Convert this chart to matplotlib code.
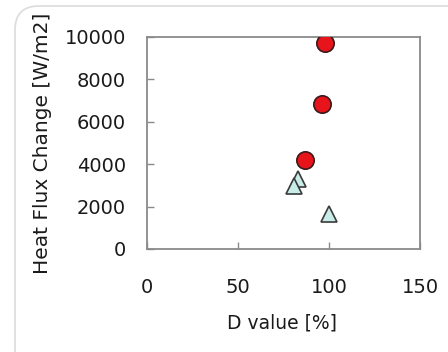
import matplotlib
matplotlib.use('Agg')
import matplotlib.pyplot as plt
from matplotlib.patches import PathPatch
from matplotlib.path import Path
from matplotlib.transforms import IdentityTransform

# data
circle_x = [98, 96, 87]
circle_y = [9700, 6850, 4200]
tri_x = [83, 81, 100]
tri_y = [3300, 2950, 1650]

x_ticks = [0, 50, 100, 150]
y_ticks = [0, 2000, 4000, 6000, 8000, 10000]

plt.rcParams['font.family'] = ['DejaVu Sans']

fig = plt.figure(figsize=(4.48, 3.52), dpi=100)
fig.patch.set_facecolor('white')

# faint rounded frame edge, top-left corner only (pixel coords)
verts = [(15, -10), (15, 322), (15, 346), (39, 346), (470, 346)]
codes = [Path.MOVETO, Path.LINETO, Path.CURVE3, Path.CURVE3, Path.LINETO]
frame = PathPatch(Path(verts, codes), transform=IdentityTransform(),
                  fill=False, edgecolor='#dcdcdc', linewidth=1.2, zorder=-5)
fig.patches.append(frame)

ax = fig.add_axes([147 / 448, 1 - 249 / 352, 273 / 448, 212 / 352])
ax.set_facecolor('white')
ax.set_zorder(2)

ax.plot(tri_x, tri_y, linestyle='none', marker='^', markersize=11.5,
        markerfacecolor='#c8ece8', markeredgecolor='#3a3a3a',
        markeredgewidth=1.2, zorder=3)
ax.plot(circle_x, circle_y, linestyle='none', marker='o', markersize=12.5,
        markerfacecolor='#e8141c', markeredgecolor='#3a1a1a',
        markeredgewidth=1.2, zorder=4)

ax.set_xlim(0, 150)
ax.set_ylim(0, 10000)
ax.set_xticks(x_ticks)
ax.set_yticks(y_ticks)

for s in ax.spines.values():
    s.set_color('#8a8a8a')
    s.set_linewidth(1.3)

ax.tick_params(axis='both', direction='in', length=5, width=1,
               color='#8a8a8a', labelsize=14, labelcolor='#1a1a1a')
ax.tick_params(axis='x', pad=21)
ax.tick_params(axis='y', pad=15)

fig.text(42 / 448, 1 - 143 / 352, 'Heat Flux Change [W/m2]', rotation=90,
         ha='center', va='center', fontsize=14.5, color='#1a1a1a', zorder=3)
fig.text(282 / 448, 1 - 323 / 352, 'D value [%]',
         ha='center', va='center', fontsize=13.5, color='#1a1a1a', zorder=3)

fig.savefig('out.png', dpi=100)
